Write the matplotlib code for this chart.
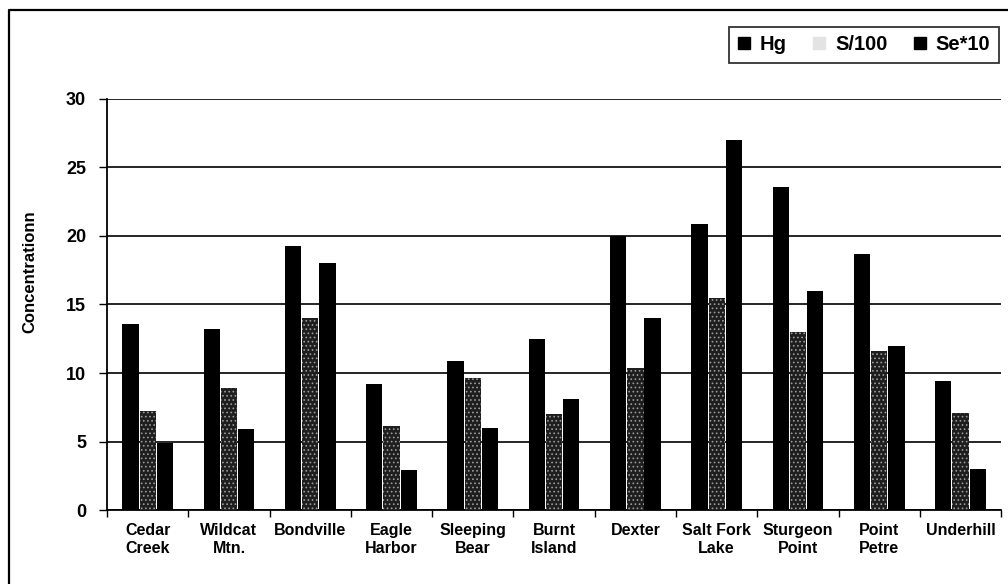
import numpy as np
import matplotlib
matplotlib.use("Agg")
import matplotlib.pyplot as plt
from matplotlib.lines import Line2D

plt.rcParams['font.family'] = ['Liberation Sans', 'DejaVu Sans']
plt.rcParams['font.weight'] = 'bold'
plt.rcParams['hatch.linewidth'] = 0.7

# site names and measured concentrations
sites = ["Cedar\nCreek", "Wildcat\nMtn.", "Bondville", "Eagle\nHarbor", "Sleeping\nBear",
         "Burnt\nIsland", "Dexter", "Salt Fork\nLake", "Sturgeon\nPoint", "Point\nPetre", "Underhill"]
hg = [13.6, 13.2, 19.3, 9.2, 10.9, 12.5, 20.0, 20.9, 23.6, 18.7, 9.4]
s_100 = [7.2, 8.9, 14.0, 6.1, 9.6, 7.0, 10.4, 15.5, 13.0, 11.6, 7.1]
se_10 = [4.9, 5.9, 18.0, 2.9, 6.0, 8.1, 14.0, 27.0, 16.0, 12.0, 3.0]
yticks = [0, 5, 10, 15, 20, 25, 30]

fig = plt.figure(figsize=(10.08, 5.84), dpi=100)
ax = fig.add_axes([0.1062, 0.1267, 0.887, 0.7038])

x = np.arange(len(sites))
w = 0.2
step = 0.212
ax.bar(x - step, hg, w, color='black', zorder=3)
ax.bar(x, s_100, w, color='#1e1e1e', edgecolor='#9a9a9a', hatch='....',
       linewidth=0, zorder=3)
ax.bar(x + step, se_10, w, color='black', zorder=3)

ax.set_xlim(-0.5, len(sites) - 0.5)
ax.set_ylim(0, 30)
ax.set_yticks(yticks)
ax.yaxis.grid(True, color='black', linewidth=1.2, zorder=0)
ax.set_axisbelow(True)

ax.set_xticks(x)
ax.set_xticklabels(sites, fontsize=11.5, fontweight='bold', linespacing=1.25)
ax.set_xticks(np.arange(len(sites) + 1) - 0.5, minor=True)
ax.tick_params(axis='x', which='major', length=0, pad=9)
ax.tick_params(axis='x', which='minor', length=5, width=1, direction='out')
ax.tick_params(axis='y', length=6, width=1, direction='out', pad=9, labelsize=13)
for lab in ax.get_yticklabels():
    lab.set_fontweight('bold')

for side in ['top', 'right']:
    ax.spines[side].set_visible(False)
ax.spines['left'].set_linewidth(1.3)
ax.spines['bottom'].set_linewidth(1.3)

ax.set_ylabel("Concentrationn", fontsize=12, fontweight='bold')
ax.yaxis.set_label_coords(-0.078, 0.579)

# legend
handles = [
    Line2D([], [], marker='s', color='black', linestyle='none', markersize=8),
    Line2D([], [], marker='s', color='#e3e3e3', linestyle='none', markersize=8),
    Line2D([], [], marker='s', color='black', linestyle='none', markersize=8),
]
leg = fig.legend(handles, ["Hg", "S/100", "Se*10"], loc='upper right',
                 bbox_to_anchor=(0.991, 0.954), ncol=3, frameon=True, fancybox=False,
                 borderaxespad=0, handlelength=0.6, handletextpad=0.5, columnspacing=1.3,
                 borderpad=0.42, prop={'size': 14.5, 'weight': 'bold'})
leg.get_frame().set_edgecolor('black')
leg.get_frame().set_linewidth(1.3)

# outer chart border (left and top edges)
fig.add_artist(Line2D([9 / 1008, 9 / 1008, 1.0], [0.0, 1 - 10 / 584, 1 - 10 / 584],
                      transform=fig.transFigure, color='black', linewidth=1.6))

fig.savefig("out.png", dpi=100)
